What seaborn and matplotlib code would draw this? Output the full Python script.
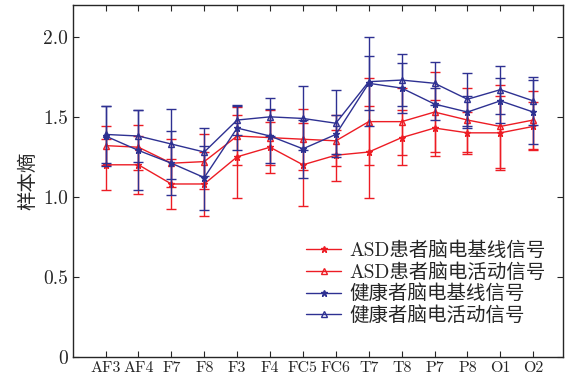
import numpy as np
import pandas as pd
import matplotlib
matplotlib.use('Agg')
import matplotlib.pyplot as plt
import seaborn as sns

sns.set_style('ticks')
plt.rcParams['font.family'] = ['cmr10', 'Noto Sans CJK SC', 'DejaVu Sans']
plt.rcParams['axes.formatter.use_mathtext'] = True
plt.rcParams['axes.unicode_minus'] = False

channels = ['AF3', 'AF4', 'F7', 'F8', 'F3', 'F4', 'FC5', 'FC6',
            'T7', 'T8', 'P7', 'P8', 'O1', 'O2']

asd_base = [1.20, 1.20, 1.08, 1.08, 1.25, 1.31, 1.20, 1.26, 1.28, 1.37, 1.43, 1.40, 1.40, 1.44]
asd_base_err = [0.16, 0.18, 0.155, 0.20, 0.26, 0.16, 0.26, 0.16, 0.29, 0.17, 0.175, 0.13, 0.23, 0.15]
asd_act = [1.32, 1.31, 1.21, 1.22, 1.38, 1.37, 1.36, 1.35, 1.47, 1.47, 1.53, 1.48, 1.44, 1.48]
asd_act_err = [0.12, 0.14, 0.15, 0.17, 0.18, 0.17, 0.19, 0.16, 0.27, 0.21, 0.25, 0.20, 0.26, 0.18]
hc_base = [1.38, 1.29, 1.21, 1.12, 1.43, 1.38, 1.30, 1.39, 1.71, 1.68, 1.58, 1.53, 1.60, 1.53]
hc_base_err = [0.19, 0.25, 0.20, 0.20, 0.14, 0.17, 0.18, 0.12, 0.17, 0.156, 0.10, 0.10, 0.14, 0.20]
hc_act = [1.39, 1.38, 1.33, 1.28, 1.48, 1.50, 1.49, 1.46, 1.72, 1.73, 1.71, 1.61, 1.67, 1.60]
hc_act_err = [0.18, 0.16, 0.22, 0.15, 0.095, 0.12, 0.20, 0.21, 0.28, 0.165, 0.135, 0.165, 0.15, 0.15]

labels = ['ASD患者脑电基线信号', 'ASD患者脑电活动信号', '健康者脑电基线信号', '健康者脑电活动信号']

red = '#ED1C24'
blue = '#2E3192'

series = [
    (asd_base, asd_base_err, red, '*', red),
    (asd_act, asd_act_err, red, '^', 'none'),
    (hc_base, hc_base_err, blue, '*', blue),
    (hc_act, hc_act_err, blue, '^', 'none'),
]

fig = plt.figure(figsize=(5.72, 3.81), dpi=100)
ax = fig.add_axes([0.127, 0.064, 0.857, 0.923])

x = np.arange(len(channels))
for (vals, errs, c, m, fc), lab in zip(series, labels):
    ax.errorbar(x, vals, yerr=errs, fmt='none', ecolor=c, elinewidth=1.0,
                capsize=3.5, capthick=1.0)
    df = pd.DataFrame({'x': x, 'y': vals})
    sns.lineplot(data=df, x='x', y='y', ax=ax, color=c, marker=m,
                 markersize=5 if m == '*' else 5, markerfacecolor=fc,
                 markeredgecolor=c, markeredgewidth=1.0, linewidth=1.0,
                 label=lab)

ax.set_xlim(-1, 13.9)
ax.set_ylim(0, 2.2)
ax.set_xticks(x)
ax.set_xticklabels(channels, fontsize=11.5)
ax.set_yticks([0, 0.5, 1.0, 1.5, 2.0])
ax.set_yticklabels(['0', '0.5', '1.0', '1.5', '2.0'], fontsize=14)
ax.set_xlabel('')
ax.set_ylabel('样本熵', fontsize=14, labelpad=4)
ax.tick_params(direction='in', top=True, right=True, length=4, width=0.8)
for s in ax.spines.values():
    s.set_linewidth(1.0)

ax.legend(loc='lower right', frameon=False, fontsize=14, labelspacing=0.15,
          handlelength=1.8, handletextpad=0.4, bbox_to_anchor=(1.0, 0.04))

plt.savefig('out.png', dpi=100)
